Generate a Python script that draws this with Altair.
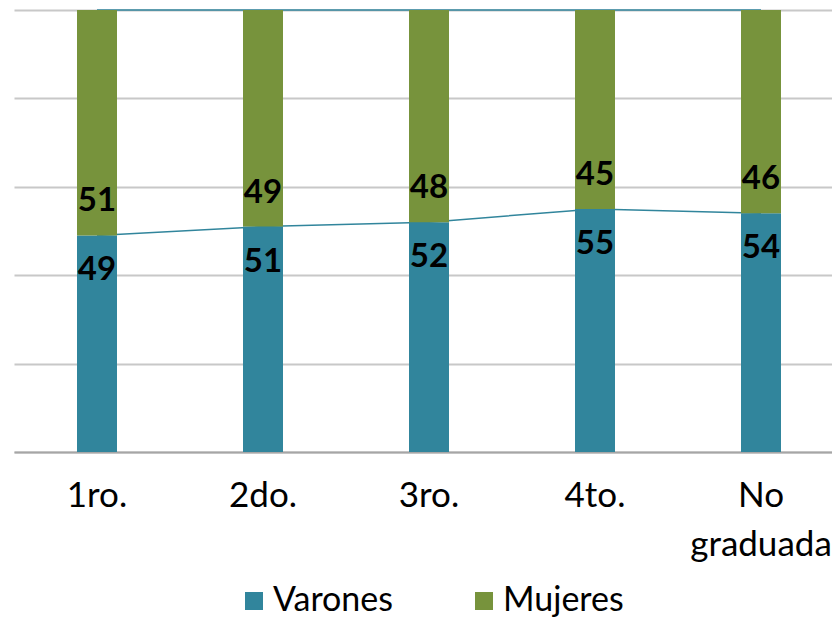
import altair as alt
import pandas as pd

categories = ["1ro.", "2do.", "3ro.", "4to.", "No graduada"]
series = ["Varones", "Mujeres"]
varones = [49, 51, 52, 55, 54]
mujeres = [51, 49, 48, 45, 46]
colors = ["#31859C", "#77933C"]

rows = []
for i, c in enumerate(categories):
    rows.append(dict(cat=c, sexo="Varones", val=varones[i], ord=0))
    rows.append(dict(cat=c, sexo="Mujeres", val=mujeres[i], ord=1))
df = pd.DataFrame(rows)

lab = pd.DataFrame({
    "cat": categories,
    "v": varones,
    "m": mujeres,
    "top": [a + b for a, b in zip(varones, mujeres)],
})

xenc = alt.X(
    "cat:N", sort=categories,
    scale=alt.Scale(range=[0, 830], paddingInner=0, paddingOuter=0),
    axis=alt.Axis(title=None, labelAngle=0, labelFont="Lato", labelFontSize=35,
                  labelColor="#000000", labelPadding=26, ticks=False,
                  domainColor="#A6A6A6", domainWidth=2,
                  labelExpr="split(datum.label, ' ')", labelLineHeight=49),
)
yscale = alt.Scale(domain=[0, 100])
yaxis = alt.Axis(title=None, labels=False, ticks=False, domain=False,
                 values=[0, 20, 40, 60, 80, 100], gridColor="#C8C8C8", gridWidth=2)

line_mid = alt.Chart(lab).mark_line(color="#31859C", strokeWidth=1.5).encode(
    x=xenc, y=alt.Y("v:Q", scale=yscale, axis=yaxis))
line_top = alt.Chart(lab).mark_line(color="#31859C", strokeWidth=1.5).encode(
    x=xenc, y=alt.Y("top:Q", scale=yscale))

bars = alt.Chart(df).mark_bar(size=40).encode(
    x=xenc,
    y=alt.Y("val:Q", stack="zero", scale=yscale),
    color=alt.Color("sexo:N", scale=alt.Scale(domain=series, range=colors),
                    legend=alt.Legend(orient="none", legendX=223, legendY=574,
                                      direction="horizontal", title=None,
                                      symbolType="square", symbolSize=324,
                                      symbolStrokeWidth=0, labelFont="Lato",
                                      labelFontSize=34, labelColor="#000000",
                                      columnPadding=73, labelOffset=2)),
    order=alt.Order("ord:Q"),
)

txt_v = alt.Chart(lab).mark_text(font="Lato", fontSize=33, fontWeight="bold",
                                 color="#000000", dy=35, baseline="middle").encode(
    x=xenc, y=alt.Y("v:Q", scale=yscale), text="v:Q")
txt_m = alt.Chart(lab).mark_text(font="Lato", fontSize=33, fontWeight="bold",
                                 color="#000000", dy=-34, baseline="middle").encode(
    x=xenc, y=alt.Y("v:Q", scale=yscale), text="m:Q")

chart = alt.layer(line_mid, line_top, bars, txt_v, txt_m).properties(
    width=818, height=442,
    autosize=alt.AutoSizeParams(type="none"),
    padding={"left": 6, "top": 2, "right": 0, "bottom": 170},
).configure_view(stroke=None)

chart.save("out.html", embed_options={"renderer": "svg", "actions": False})
